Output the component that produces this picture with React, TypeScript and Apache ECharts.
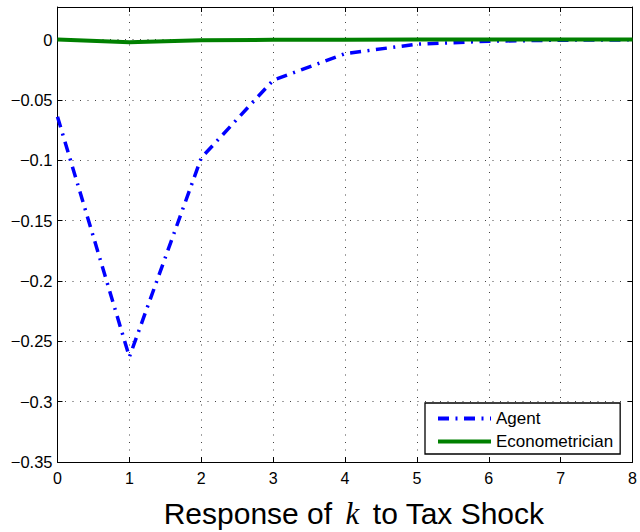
import React, { useEffect, useRef } from "react";
import * as echarts from "echarts";

const steps = [0, 1, 2, 3, 4, 5, 6, 7, 8];
const agentValues = [-0.064, -0.263, -0.098, -0.0337, -0.0116, -0.0038, -0.0013, -0.0005, -0.0002];
const econometricianValues = [0, -0.0022, -0.0006, -0.0002, -0.0001, 0, 0, 0, 0];
const seriesNames = ["Agent", "Econometrician"];
const titleParts = ["Response of ", "k", " to Tax Shock"];

const FONT = "'Liberation Sans', Arial, Helvetica, sans-serif";

export default function App() {
  const ref = useRef<HTMLDivElement>(null);
  useEffect(() => {
    if (!ref.current) return;
    const chart = echarts.init(ref.current, undefined, { renderer: "svg" });
    const fmtY = (v: number) => {
      const r = Math.round(v / 0.05) * 0.05;
      if (Math.abs(v - r) > 1e-6) return "";
      const s = String(Math.round(v * 100) / 100);
      return s === "0" || s === "-0" ? "0" : s.replace("-", "\u2212");
    };
    const gridDots = { show: true, lineStyle: { color: "#444", width: 1, type: [1, 6.5] as any } };
    const frameLine = { show: true, onZero: false, lineStyle: { color: "#000", width: 1 } };
    const innerTicks = { show: true, inside: true, length: 5, lineStyle: { color: "#000", width: 1 } };
    chart.setOption({
      animation: false,
      backgroundColor: "#fff",
      textStyle: { fontFamily: FONT },
      title: {
        text: `{a|${titleParts[0]}}{k|${titleParts[1]}}{a|${titleParts[2]}}`,
        left: 354,
        top: 498,
        textAlign: "center",
        padding: 0,
        textStyle: {
          fontWeight: "normal",
          rich: {
            a: { fontFamily: FONT, fontSize: 30, fontWeight: "normal", color: "#000" },
            k: {
              fontFamily: "'Liberation Serif', 'DejaVu Serif', serif",
              fontStyle: "italic",
              fontWeight: "normal",
              fontSize: 31,
              color: "#000",
              padding: [0, 5, 0, 5],
            },
          },
        },
      },
      grid: { left: 57.5, right: 7, top: 7, bottom: 70, containLabel: false },
      legend: {
        data: seriesNames,
        orient: "vertical",
        left: 425,
        top: 403,
        padding: [7, 7, 4, 11],
        itemGap: 6,
        itemWidth: 53,
        itemHeight: 14,
        backgroundColor: "#fff",
        borderColor: "#000",
        borderWidth: 1.3,
        borderRadius: 0,
        itemStyle: { opacity: 0 },
        lineStyle: { width: 4 },
        textStyle: { fontFamily: FONT, fontSize: 17, color: "#000", lineHeight: 16, padding: [0, 0, 0, 0] },
      },
      xAxis: [
        {
          type: "value",
          min: 0,
          max: 8,
          interval: 1,
          axisLine: frameLine,
          axisTick: innerTicks,
          splitLine: gridDots,
          axisLabel: { color: "#000", fontSize: 16, fontFamily: FONT, margin: 8 },
        },
        {
          type: "value",
          position: "top",
          min: 0,
          max: 8,
          interval: 1,
          axisLine: frameLine,
          axisTick: innerTicks,
          splitLine: { show: false },
          axisLabel: { show: false },
        },
      ],
      yAxis: [
        {
          type: "value",
          min: -0.35,
          max: 0.027,
          interval: 0.05,
          axisLine: frameLine,
          axisTick: innerTicks,
          splitLine: gridDots,
          axisLabel: { color: "#000", fontSize: 16.5, fontFamily: FONT, margin: 5, formatter: fmtY, showMaxLabel: false },
        },
        {
          type: "value",
          position: "right",
          min: -0.35,
          max: 0.027,
          interval: 0.05,
          axisLine: frameLine,
          axisTick: innerTicks,
          splitLine: { show: false },
          axisLabel: { show: false },
        },
      ],
      series: [
        {
          name: seriesNames[0],
          type: "line",
          data: steps.map((x, i) => [x, agentValues[i]]),
          symbol: "none",
          lineStyle: { color: "#0000ff", width: 3.5, type: [11, 6.5, 2, 6.5] as any, cap: "butt" },
          itemStyle: { color: "#0000ff" },
          z: 3,
        },
        {
          name: seriesNames[1],
          type: "line",
          data: steps.map((x, i) => [x, econometricianValues[i]]),
          symbol: "none",
          lineStyle: { color: "#008000", width: 4 },
          itemStyle: { color: "#008000" },
          z: 4,
        },
      ],
    });
    return () => chart.dispose();
  }, []);
  return (
    <div
      ref={ref}
      style={{ position: "absolute", left: 0, top: 0, width: 640, height: 532, background: "#fff" }}
    />
  );
}
